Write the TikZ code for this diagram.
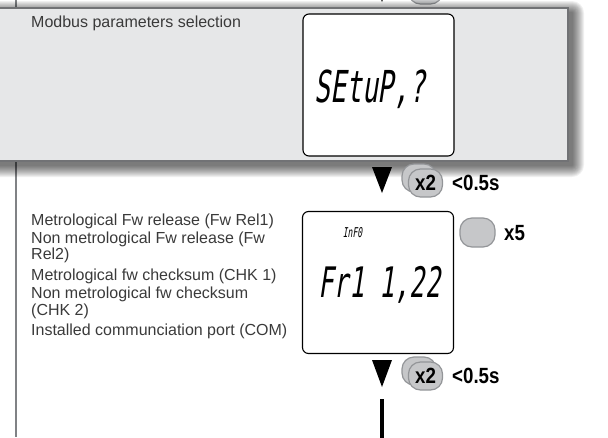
\documentclass[tikz,border=0pt]{standalone}
\usepackage{fontspec}
\setmainfont{Liberation Sans}
\newfontfamily\segfont[FakeSlant=0.15,FakeStretch=0.6]{DejaVu Sans Mono}
\definecolor{boxfill}{HTML}{E6E7E8}
\definecolor{boxedge}{HTML}{717275}
\definecolor{btnfill}{HTML}{C6C7C9}
\definecolor{btnedge}{HTML}{939598}
\definecolor{txtc}{HTML}{3A3A3A}
\definecolor{railc}{HTML}{808285}
\newcommand\btf{\fontsize{22}{22}\selectfont\bfseries\addfontfeature{FakeStretch=0.85}}
\tikzset{
  panelbox/.style={draw=boxedge, fill=boxfill, line width=1.5pt, inner sep=0pt, anchor=north west},
  dispbox/.style={draw=black, fill=white, line width=1.1pt, rounded corners=6pt, inner sep=0pt, minimum width=151pt, minimum height=142pt},
  btn/.style={draw=btnedge, fill=btnfill, line width=1.2pt, rounded corners=12pt, inner sep=0pt, minimum width=34pt, minimum height=28pt, font=\btf, text=black},
  desc/.style={font=\fontsize{16}{18}\selectfont, text=txtc, inner sep=0pt, anchor=base west},
  boldlbl/.style={font=\btf, text=black, inner sep=0pt, anchor=base west},
  segbig/.style={font=\segfont\fontsize{44}{44}\selectfont, inner sep=0pt, anchor=base},
  segmid/.style={font=\segfont\fontsize{42}{42}\selectfont, inner sep=0pt, anchor=base},
  segsmall/.style={font=\segfont\fontsize{13.5}{13.5}\selectfont, inner sep=0pt, anchor=base},
  downtri/.style={fill=black}
}
\begin{document}
\begin{tikzpicture}[x=1pt,y=-1pt]
\useasboundingbox (0,0) rectangle (608,437);
\clip (0,0) rectangle (608,437);
% rail on the left
\coordinate (railTop) at (16,0);
\coordinate (railBot) at (16,437);
\draw[railc, line width=2pt] (railTop) -- (railBot);
% previous step remnants at the top
\node[btn] (b0back) at (419,-15) {};
\node[btn] (b0) at (425.5,-10) {};
\fill[downtri] (372,-24) -- (392,-24) -- (382,2) -- cycle;
% shadow of the panel
\foreach \r in {1,...,12}
  \fill[black, opacity=0.06, rounded corners=\r pt] (-20+6-\r, 7+6-\r) rectangle (567+5+\r, 160+5+\r);
% highlighted panel
\node[panelbox, minimum width=587pt, minimum height=153pt] (panel) at (-20,7) {};
\node[desc] (t1) at (31,27) {Modbus parameters selection};
\node[dispbox] (disp1) at (378.5,85) {};
\node[segbig] (s1) at (370,102) {SEtuP,?};
% step arrow 1
\fill[downtri] (372,167) -- (392,167) -- (382,193) -- cycle;
\node[btn] (b1back) at (419,178) {};
\node[btn] (b1) at (425.5,183) {x2};
\node[boldlbl] (l1) at (452,190.5) {<0.5s};
% info step
\node[desc] (d1) at (31,225) {Metrological Fw release (Fw Rel1)};
\node[desc] (d2) at (31,243) {Non metrological Fw release (Fw};
\node[desc] (d3) at (31,259.5) {Rel2)};
\node[desc] (d4) at (31,280) {Metrological fw checksum (CHK 1)};
\node[desc] (d5) at (31,298) {Non metrological fw checksum};
\node[desc] (d6) at (31,315) {(CHK 2)};
\node[desc] (d7) at (31,335) {Installed communciation port (COM)};
\node[dispbox] (disp2) at (378,282.5) {};
\node[segsmall] (s2) at (352.5,237) {InF0};
\node[segmid] (s3) at (379.5,297) {Fr1 1,22};
\node[btn, minimum width=35pt, minimum height=29pt] (b5) at (477.5,232.5) {};
\node[boldlbl] (l5) at (504,240.5) {x5};
% step arrow 2
\fill[downtri] (372,360) -- (392,360) -- (382,387) -- cycle;
\node[btn] (b2back) at (419,371) {};
\node[btn] (b2) at (425.5,376) {x2};
\node[boldlbl] (l2) at (452,383.5) {<0.5s};
\coordinate (barTop) at (382,399);
\coordinate (barBot) at (382,440);
\draw[line width=4pt] (barTop) -- (barBot);
\end{tikzpicture}
\end{document}
